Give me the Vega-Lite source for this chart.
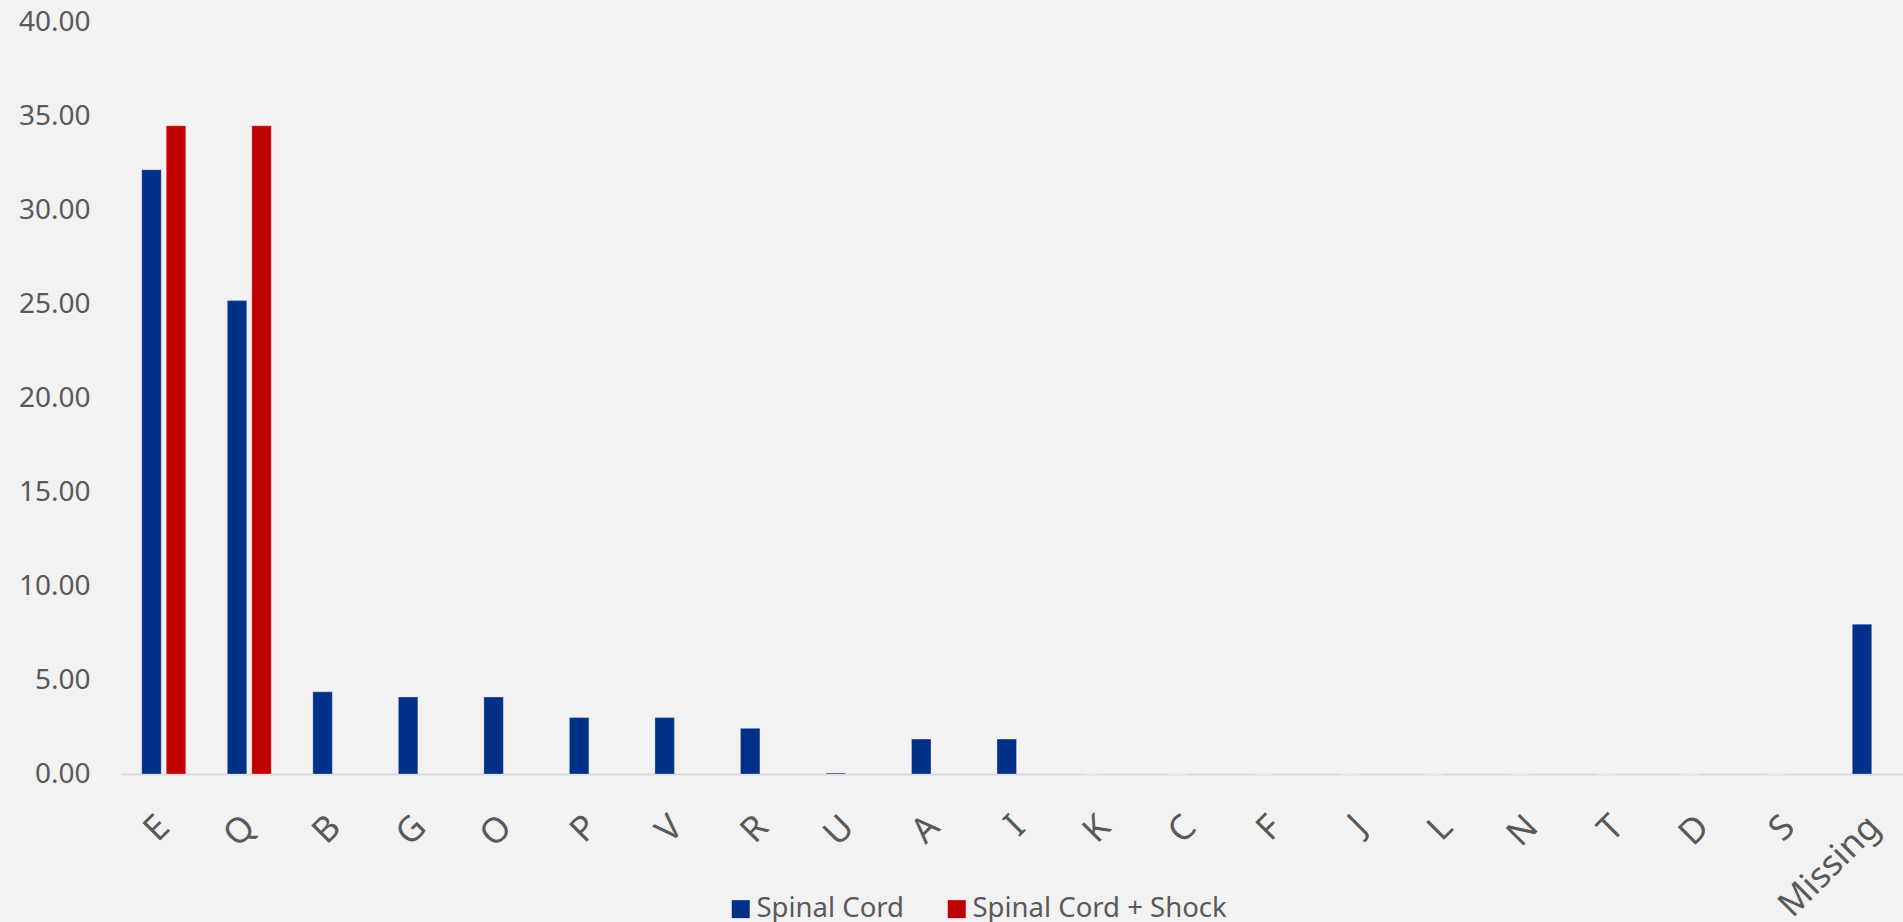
{
  "$schema": "https://vega.github.io/schema/vega-lite/v6.json",
  "width": 1782,
  "height": 752,
  "autosize": {"type": "none"},
  "padding": {"left": 121, "top": 22, "right": 0, "bottom": 148},
  "background": "#F2F2F2",
  "config": {"view": {"stroke": null}, "font": "Noto Sans"},
  "data": {
    "values": [
      {"category": "E", "series": "Spinal Cord", "value": 32.14},
      {"category": "E", "series": "Spinal Cord + Shock", "value": 34.48},
      {"category": "Q", "series": "Spinal Cord", "value": 25.18},
      {"category": "Q", "series": "Spinal Cord + Shock", "value": 34.48},
      {"category": "B", "series": "Spinal Cord", "value": 4.37},
      {"category": "G", "series": "Spinal Cord", "value": 4.1},
      {"category": "O", "series": "Spinal Cord", "value": 4.1},
      {"category": "P", "series": "Spinal Cord", "value": 3.0},
      {"category": "V", "series": "Spinal Cord", "value": 3.0},
      {"category": "R", "series": "Spinal Cord", "value": 2.43},
      {"category": "U", "series": "Spinal Cord", "value": 0.05},
      {"category": "A", "series": "Spinal Cord", "value": 1.86},
      {"category": "I", "series": "Spinal Cord", "value": 1.86},
      {"category": "K", "series": "Spinal Cord", "value": 0},
      {"category": "C", "series": "Spinal Cord", "value": 0},
      {"category": "F", "series": "Spinal Cord", "value": 0},
      {"category": "J", "series": "Spinal Cord", "value": 0},
      {"category": "L", "series": "Spinal Cord", "value": 0},
      {"category": "N", "series": "Spinal Cord", "value": 0},
      {"category": "T", "series": "Spinal Cord", "value": 0},
      {"category": "D", "series": "Spinal Cord", "value": 0},
      {"category": "S", "series": "Spinal Cord", "value": 0},
      {"category": "Missing", "series": "Spinal Cord", "value": 7.97}
    ]
  },
  "mark": {"type": "bar", "stroke": "#ffffff", "strokeOpacity": 0.3, "strokeWidth": 1},
  "encoding": {
    "x": {
      "field": "category",
      "type": "nominal",
      "sort": null,
      "scale": {
        "domain": ["E", "Q", "B", "G", "O", "P", "V", "R", "U", "A", "I", "K", "C", "F", "J", "L", "N", "T", "D", "S", "Missing"],
        "range": [0, 1796],
        "paddingInner": 0.486,
        "paddingOuter": 0.243
      },
      "axis": {
        "title": null,
        "labelAngle": -45,
        "labelAlign": "right",
        "labelBaseline": "middle",
        "labelPadding": 47,
        "labelFontSize": 35,
        "labelFont": "Noto Sans",
        "labelColor": "#595959",
        "domainColor": "#D9D9D9",
        "domainWidth": 2,
        "ticks": false,
        "labelOverlap": false,
        "labelBound": false
      }
    },
    "xOffset": {
      "field": "series",
      "scale": {"domain": ["Spinal Cord", "Spinal Cord + Shock"], "paddingInner": 0.204, "paddingOuter": 0}
    },
    "y": {
      "field": "value",
      "type": "quantitative",
      "scale": {"domain": [0, 40], "nice": false},
      "axis": {
        "title": null,
        "values": [0, 5, 10, 15, 20, 25, 30, 35, 40],
        "format": ".2f",
        "labelFontSize": 28,
        "labelFont": "Noto Sans",
        "labelColor": "#595959",
        "labelFlush": false,
        "domain": false,
        "ticks": false,
        "grid": false,
        "labelPadding": 31
      }
    },
    "color": {
      "field": "series",
      "type": "nominal",
      "scale": {"domain": ["Spinal Cord", "Spinal Cord + Shock"], "range": ["#003087", "#C00000"]},
      "legend": {
        "title": null,
        "orient": "none",
        "legendX": 606,
        "legendY": 873,
        "direction": "horizontal",
        "padding": 0,
        "labelFont": "Noto Sans",
        "labelFontSize": 27.5,
        "labelColor": "#595959",
        "labelLimit": 0,
        "symbolType": "square",
        "symbolSize": 324,
        "symbolStrokeWidth": 0,
        "symbolOpacity": 1,
        "labelOffset": 2,
        "columnPadding": 38
      }
    }
  }
}
